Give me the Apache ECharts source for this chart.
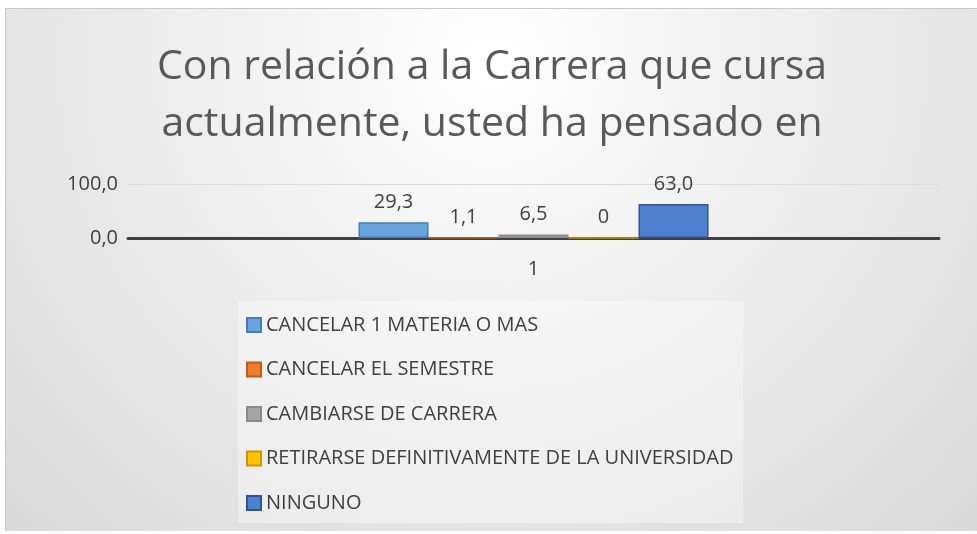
<!DOCTYPE html>
<html>
<head>
<meta charset="utf-8">
<script src="https://cdn.jsdelivr.net/npm/echarts@6/dist/echarts.min.js"></script>
<style>
  body { margin: 0; background: #ffffff; }
  #chart {
    position: absolute; left: 5px; top: 8px; width: 972px; height: 522px;
    background: radial-gradient(ellipse at 50% 10%, #ffffff 0%, #eeeeee 45%, #d9d9d9 100%);
    border-top: 1px solid #c8c8c8; border-left: 1px solid #c8c8c8;
  }
</style>
</head>
<body>
<div id="chart"></div>
<script>
const categories = ['1'];
const seriesNames = [
  'CANCELAR 1 MATERIA O MAS',
  'CANCELAR EL SEMESTRE',
  'CAMBIARSE DE CARRERA',
  'RETIRARSE DEFINITIVAMENTE DE LA UNIVERSIDAD',
  'NINGUNO'
];
const values = [29.3, 1.1, 6.5, 0, 63.0];
const valueLabels = ['29,3', '1,1', '6,5', '0', '63,0'];
const yTicks = ['0,0', '100,0'];

const fills = ['#6aa3db', '#ed7d31', '#a5a5a5', '#ffc000', '#4f7fcf'];
const borders = ['#3f7fc0', '#c55a11', '#8a8a8a', '#c99700', '#2f5597'];

const chart = echarts.init(document.getElementById('chart'));

const series = seriesNames.map((name, i) => ({
  name: name,
  type: 'bar',
  data: [values[i]],
  barWidth: 70,
  barGap: '0%',
  itemStyle: { color: fills[i], borderColor: borders[i], borderWidth: 1.5 },
  label: {
    show: true,
    position: 'top',
    distance: 10,
    color: '#404040',
    fontSize: 20,
    fontFamily: 'Open Sans',
    formatter: () => valueLabels[i]
  }
}));

chart.setOption({
  animation: false,
  textStyle: { fontFamily: 'Open Sans' },
  title: {
    text: 'Con relación a la Carrera que cursa\nactualmente, usted ha pensado en',
    left: 'center',
    top: 30,
    padding: [0, 0, 0, 26],
    textStyle: {
      color: '#595959',
      fontSize: 41,
      fontWeight: 'normal',
      lineHeight: 57,
      fontFamily: 'Open Sans'
    }
  },
  legend: {
    orient: 'vertical',
    left: 232,
    top: 292,
    padding: [14, 10, 10, 8],
    backgroundColor: 'rgba(255,255,255,0.35)',
    itemWidth: 14,
    itemHeight: 14,
    itemGap: 24.5,
    icon: 'rect',
    textStyle: { color: '#404040', fontSize: 20, lineHeight: 20, fontFamily: 'Open Sans' },
    data: seriesNames
  },
  grid: { left: 122, right: 39, top: 175, bottom: 293 },
  xAxis: {
    type: 'category',
    data: categories,
    axisLine: { lineStyle: { color: '#404040', width: 3 } },
    axisTick: { show: false },
    axisLabel: { color: '#404040', fontSize: 20, margin: 21 }
  },
  yAxis: {
    type: 'value',
    min: 0,
    max: 100,
    interval: 100,
    axisLine: { show: false },
    axisTick: { show: false },
    splitLine: { lineStyle: { color: '#dcdcdc', width: 1 } },
    axisLabel: {
      color: '#404040',
      fontSize: 20,
      margin: 10,
      formatter: (v) => yTicks[v === 0 ? 0 : 1]
    }
  },
  series: series
});
</script>
</body>
</html>
